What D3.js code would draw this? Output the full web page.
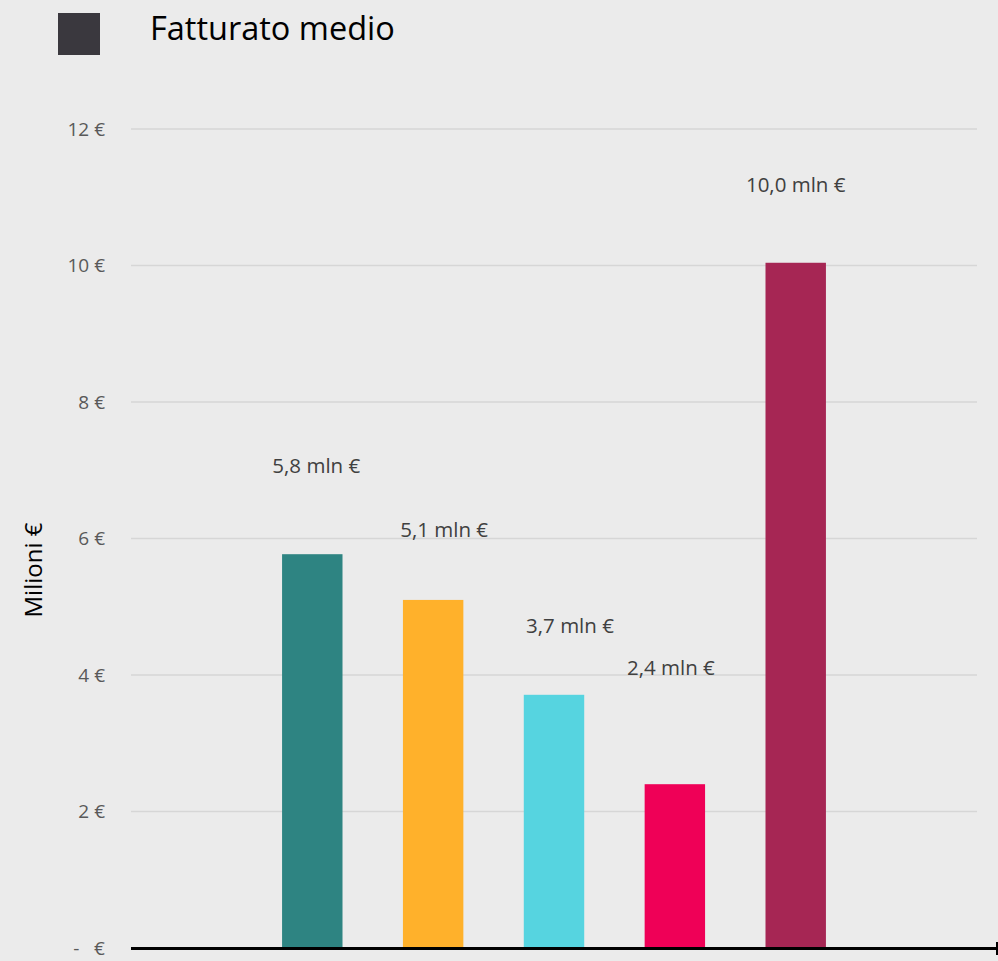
<!DOCTYPE html>
<html><head><meta charset="utf-8">
<script src="https://cdn.jsdelivr.net/npm/d3@7"></script>
<style>html,body{margin:0;padding:0;background:#ebebeb;}svg{display:block;}text{white-space:pre;}</style>
</head><body>
<svg id="c" width="998" height="961"></svg>
<script>
const categories = ["", "A", "B", "C", "D", "E", " "];
const values = [null, 5.77, 5.1, 3.71, 2.4, 10.04, null];
const labels = ["", "5,8 mln €", "5,1 mln €", "3,7 mln €", "2,4 mln €", "10,0 mln €", ""];
const labelAt = [null, 7.06, 6.12, 4.72, 4.1, 11.18, null];
const labelShift = [0, 4, 11, 16, -4, 0, 0];
const colors = ["#000", "#2e8482", "#ffb12b", "#56d4e0", "#ef0057", "#a62654", "#000"];
const yTicks = [0, 2, 4, 6, 8, 10, 12];
const yTickLabels = ["-   €", "2 €", "4 €", "6 €", "8 €", "10 €", "12 €"];
const title = "Fatturato medio";
const yTitle = "Milioni €";

const svg = d3.select("#c");
const font = "'Open Sans', sans-serif";
const x = d3.scaleBand().domain(categories.map((d,i)=>i)).range([131, 977]).paddingInner(0.5).paddingOuter(0.25);
const y = d3.scaleLinear().domain([0, 12]).range([948, 129]);

svg.append("rect").attr("width",998).attr("height",961).attr("fill","#ebebeb");

// gridlines
svg.append("g").selectAll("line").data(yTicks.filter(d=>d>0)).join("line")
  .attr("x1",131).attr("x2",977).attr("y1",d=>y(d)).attr("y2",d=>y(d))
  .attr("stroke","#d6d6d6").attr("stroke-width",1.3);

// y tick labels
svg.append("g").selectAll("text").data(yTicks).join("text")
  .attr("x",105).attr("y",d=>y(d)).attr("dy","0.35em").attr("text-anchor","end")
  .attr("font-family",font).attr("font-size",19).attr("fill","#595959")
  .text((d,i)=>yTickLabels[i]);

// bars
const idx = categories.map((d,i)=>i).filter(i=>values[i]!=null);
svg.append("g").selectAll("rect").data(idx).join("rect")
  .attr("x",i=>x(i)).attr("width",x.bandwidth())
  .attr("y",i=>y(values[i])).attr("height",i=>y(0)-y(values[i]))
  .attr("fill",i=>colors[i]);

// labels
svg.append("g").selectAll("text").data(idx).join("text")
  .attr("x",i=>x(i)+x.bandwidth()/2+labelShift[i]).attr("y",i=>y(labelAt[i])).attr("dy","0.35em")
  .attr("text-anchor","middle").attr("font-family",font).attr("font-size",20.5).attr("fill","#404040")
  .text(i=>labels[i]);

// x axis line
svg.append("line").attr("x1",131).attr("x2",997).attr("y1",948.5).attr("y2",948.5)
  .attr("stroke","#000").attr("stroke-width",3);
svg.append("line").attr("x1",997).attr("x2",997).attr("y1",942).attr("y2",955)
  .attr("stroke","#000").attr("stroke-width",2);

// y title
svg.append("text").attr("transform","translate(42,570) rotate(-90)")
  .attr("text-anchor","middle").attr("font-family",font).attr("font-size",24).attr("fill","#000")
  .text(yTitle);

// legend
svg.append("rect").attr("x",58).attr("y",13).attr("width",42).attr("height",42).attr("fill","#3a383e");
svg.append("text").attr("x",150).attr("y",40).attr("font-family",font).attr("font-size",32.5).attr("fill","#000")
  .text(title);
</script>
</body></html>
